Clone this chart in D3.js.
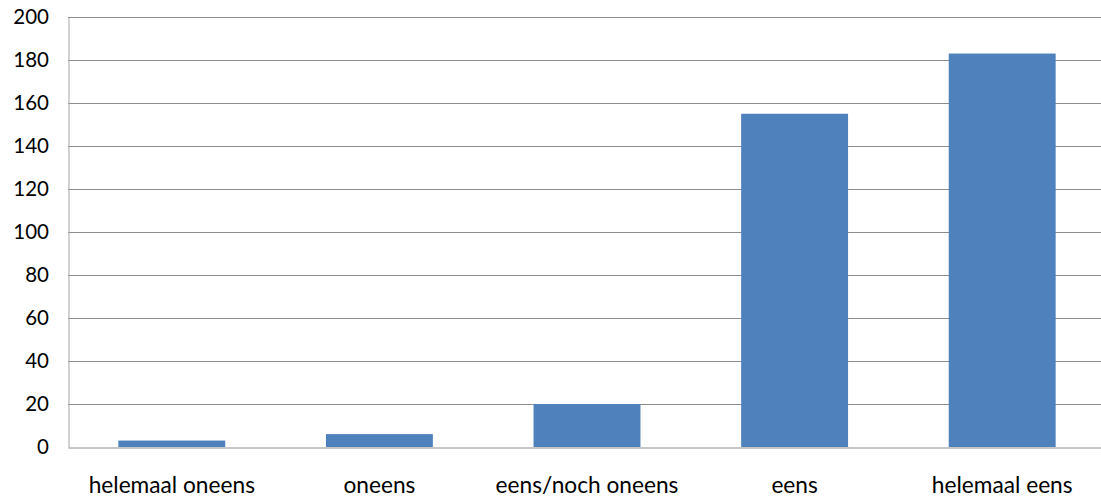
<!DOCTYPE html>
<html><head><meta charset="utf-8">
<script src="https://cdn.jsdelivr.net/npm/d3@7"></script>
<style>body{margin:0;background:#fff;}svg{display:block;}</style>
</head><body>
<svg id="chart" width="1101" height="499"></svg>
<script>
const categories = ["helemaal oneens", "oneens", "eens/noch oneens", "eens", "helemaal eens"];
const values = [3, 6, 20, 155, 183];
const yTicks = [0, 20, 40, 60, 80, 100, 120, 140, 160, 180, 200];

const svg = d3.select("#chart");
const x = d3.scaleBand().domain(categories).range([68, 1106]).paddingInner(0.485).paddingOuter(0.2425);
const y = d3.scaleLinear().domain([0, 200]).range([447, 17]);
const font = "Lato, 'Open Sans', sans-serif";

// gridlines
svg.append("g").selectAll("line").data(yTicks.filter(d => d > 0)).join("line")
  .attr("x1", 68).attr("x2", 1106)
  .attr("y1", d => Math.round(y(d)) + 0.5).attr("y2", d => Math.round(y(d)) + 0.5)
  .attr("stroke", "#8c8c8c").attr("stroke-width", 1);

// bars
svg.append("g").selectAll("rect").data(values).join("rect")
  .attr("x", (d, i) => x(categories[i]))
  .attr("width", x.bandwidth())
  .attr("y", d => y(d))
  .attr("height", d => y(0) - y(d))
  .attr("fill", "#4F81BD");

// y axis
const yAxis = d3.axisLeft(y).tickValues(yTicks).tickSize(0).tickPadding(19.5);
const gy = svg.append("g").attr("transform", "translate(68.5,0)").call(yAxis);
gy.select(".domain").attr("stroke", "#a6a6a6");
gy.selectAll("text").attr("font-family", font).attr("font-size", 20.5).attr("fill", "#000");

// x axis
const xAxis = d3.axisBottom(x).tickSize(0).tickPadding(29);
const gx = svg.append("g").attr("transform", "translate(0," + (Math.round(y(0)) + 0.5) + ")").call(xAxis);
gx.select(".domain").attr("stroke", "#8c8c8c");
gx.selectAll("text").attr("font-family", font).attr("font-size", 22.7).attr("fill", "#000");
</script>
</body></html>
